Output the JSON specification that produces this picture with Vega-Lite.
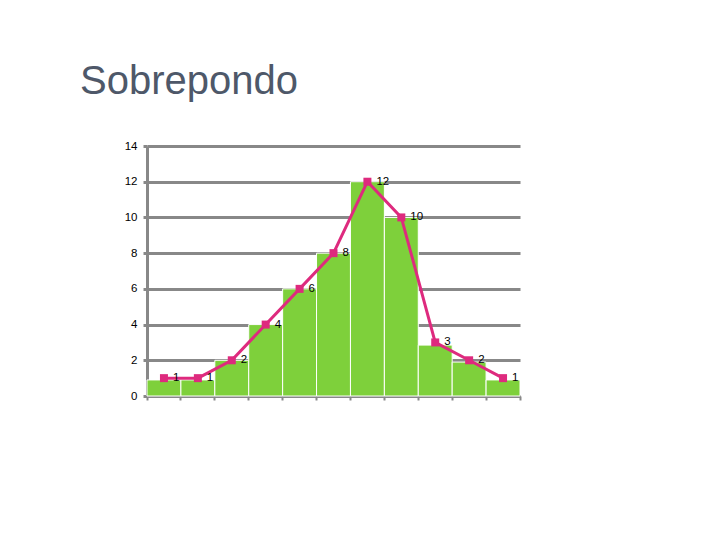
{
  "$schema": "https://vega.github.io/schema/vega-lite/v6.json",
  "autosize": {"type": "none"},
  "width": 373,
  "height": 250,
  "padding": {"left": 147, "top": 146, "right": 200, "bottom": 144},
  "background": "white",
  "title": {
    "text": "Sobrepondo",
    "anchor": "start",
    "frame": "group",
    "dx": -67,
    "offset": 38,
    "font": "Liberation Sans",
    "fontSize": 40,
    "fontWeight": "normal",
    "color": "#4E5869"
  },
  "config": {
    "view": {"stroke": null},
    "font": "Liberation Sans",
    "axisY": {
      "title": null,
      "tickCount": 20,
      "format": "d",
      "labelOverlap": false,
      "grid": true,
      "gridColor": "#888888",
      "gridWidth": 3,
      "domainColor": "#888888",
      "domainWidth": 3,
      "tickColor": "#888888",
      "tickWidth": 3,
      "tickSize": 4,
      "labelPadding": 6,
      "labelFontSize": 11.5,
      "labelColor": "#000000",
      "labelFont": "Liberation Sans"
    }
  },
  "data": {
    "values": [
      {"classe": "1", "barra": 0.9, "freq": 1},
      {"classe": "2", "barra": 0.9, "freq": 1},
      {"classe": "3", "barra": 2, "freq": 2},
      {"classe": "4", "barra": 4, "freq": 4},
      {"classe": "5", "barra": 6, "freq": 6},
      {"classe": "6", "barra": 8, "freq": 8},
      {"classe": "7", "barra": 12, "freq": 12},
      {"classe": "8", "barra": 10, "freq": 10},
      {"classe": "9", "barra": 2.85, "freq": 3},
      {"classe": "10", "barra": 1.9, "freq": 2},
      {"classe": "11", "barra": 0.9, "freq": 1}
    ]
  },
  "encoding": {
    "x": {
      "field": "classe",
      "type": "ordinal",
      "sort": null,
      "scale": {"paddingInner": 0, "paddingOuter": 0},
      "axis": {
        "title": null,
        "labels": false,
        "bandPosition": 1,
        "tickExtra": true,
        "tickSize": 4,
        "tickColor": "#888888",
        "tickWidth": 2,
        "domainColor": "#888888",
        "domainWidth": 3,
        "grid": false
      }
    }
  },
  "layer": [
    {
      "mark": {"type": "bar", "color": "#7ED03B", "stroke": "white", "strokeWidth": 1},
      "encoding": {
        "y": {
          "field": "barra",
          "type": "quantitative",
          "title": null,
          "scale": {"domain": [0, 14], "nice": false},
          "axis": {"values": [0, 2, 4, 6, 8, 10, 12, 14], "tickCount": 20, "format": "d"}
        }
      }
    },
    {
      "mark": {"type": "line", "color": "#DE2A7E", "strokeWidth": 3},
      "encoding": {
        "y": {"field": "freq", "type": "quantitative", "title": null, "axis": {"values": [0, 2, 4, 6, 8, 10, 12, 14], "tickCount": 20, "format": "d"}}
      }
    },
    {
      "mark": {"type": "point", "shape": "square", "filled": true, "size": 64, "color": "#DE2A7E", "opacity": 1},
      "encoding": {
        "y": {"field": "freq", "type": "quantitative", "title": null, "axis": {"values": [0, 2, 4, 6, 8, 10, 12, 14], "tickCount": 20, "format": "d"}}
      }
    },
    {
      "mark": {"type": "text", "align": "left", "baseline": "middle", "dx": 9, "fontSize": 11.5, "color": "#000000", "font": "Liberation Sans"},
      "encoding": {
        "y": {"field": "freq", "type": "quantitative", "title": null, "axis": {"values": [0, 2, 4, 6, 8, 10, 12, 14], "tickCount": 20, "format": "d"}},
        "text": {"field": "freq", "type": "quantitative"}
      }
    }
  ]
}
